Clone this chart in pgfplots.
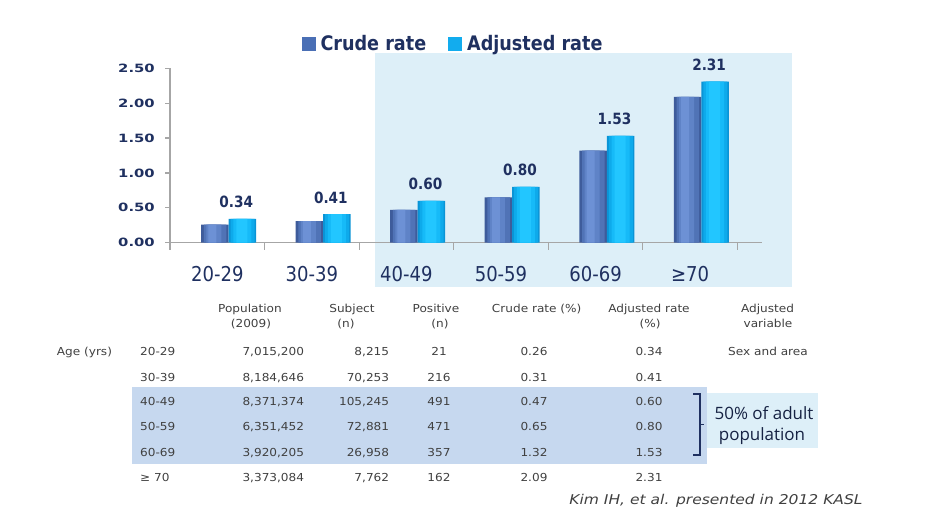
\documentclass[border=0pt]{standalone}
\usepackage{fontspec}
\setmainfont{DejaVu Sans}
\newfontfamily\tickfont{DejaVu Sans}[FakeStretch=1.3]
\newfontfamily\tah{DejaVu Sans}[FakeStretch=0.88]
\newfontfamily\tabfont{DejaVu Sans}[FakeStretch=1.1]
\newfontfamily\citefont{DejaVu Sans}[FakeStretch=1.15]
\newfontfamily\boxfont{Open Sans}
\usepackage{pgfplots}
\usepackage{pgfplotstable}
\pgfplotsset{compat=1.18}
\definecolor{navy}{HTML}{1F3060}
\definecolor{axgray}{HTML}{A6A6A6}
\definecolor{hlchart}{HTML}{DDEFF8}
\definecolor{hltab}{HTML}{C6D8EF}
\definecolor{tabtxt}{HTML}{404040}
\definecolor{crA}{HTML}{3E5C9B}
\definecolor{crB}{HTML}{5073B6}
\definecolor{crC}{HTML}{5F83C7}
\definecolor{crD}{HTML}{6D91D5}
\definecolor{adA}{HTML}{0A94D6}
\definecolor{adB}{HTML}{0EAAEB}
\definecolor{adC}{HTML}{16BAF8}
\definecolor{adD}{HTML}{22C6FF}
\definecolor{legcr}{HTML}{4A6FB5}
\definecolor{legad}{HTML}{12ACEE}
\pgfplotstableread{
x crude adj lab
0 0.26 0.34 0.34
1 0.31 0.41 0.41
2 0.47 0.60 0.60
3 0.65 0.80 0.80
4 1.32 1.53 1.53
5 2.09 2.31 2.31
}\rates
\newcommand{\T}[4]{\node[anchor=#3,inner sep=0pt,font=\tabfont\fontsize{11}{13}\selectfont,text=tabtxt] at (#1,#2) {#4};}
\begin{document}
\begin{tikzpicture}
\begin{scope}[x=1pt,y=-1pt,yshift=508pt]
\fill[hlchart] (375,53) rectangle (792,287);
\fill[hltab] (131.7,387) rectangle (706.7,464);
\fill[hlchart] (706.7,393) rectangle (818,448);
\end{scope}
\begin{axis}[
  at={(170pt,265.3pt)}, anchor=south west,
  scale only axis, width=592pt, height=174.4pt,
  xmin=-0.5, xmax=5.76, ymin=0, ymax=2.5,
  axis lines*=left,
  axis line style={axgray, line width=1.2pt},
  tick align=outside,
  xtick={0,...,5},
  xticklabels={20-29,30-39,40-49,50-59,60-69,≥70},
  minor xtick={-0.5,0.5,...,5.5},
  major x tick style={draw=none},
  minor x tick style={axgray, line width=1.2pt},
  minor tick length=7pt,
  ytick={0,0.5,...,2.5},
  major tick length=5pt,
  major y tick style={axgray, line width=1.2pt},
  xticklabel style={font=\tah\fontsize{20.5}{24}\selectfont, text=navy, anchor=base, yshift=-34pt},
  yticklabel style={font=\tickfont\bfseries\fontsize{11.4}{13}\selectfont, text=navy, inner sep=0pt, xshift=-10pt},
  /pgf/number format/assume math mode=true,
  /pgf/number format/.cd, fixed, fixed zerofill, precision=2, /pgfplots/.cd,
  legend columns=2,
  legend style={at={(0.478,1.141)}, anchor=center, draw=none, fill=none,
    font=\tah\bfseries\fontsize{20}{23}\selectfont, text=navy,
    /tikz/every even column/.append style={column sep=20pt},
    nodes={inner sep=2pt}},
  clip=false,
  every axis plot/.append style={ybar, draw=none, forget plot},
]
\addlegendimage{legend image code/.code={\fill[legcr] (0pt,-7pt) rectangle (14pt,7pt); \path (17pt,0pt);}}
\addlegendentry{Crude rate}
\addlegendimage{legend image code/.code={\fill[legad] (0pt,-7pt) rectangle (14pt,7pt); \path (17pt,0pt);}}
\addlegendentry{Adjusted rate}
% crude rate bars (layered for the shading)
\addplot[fill=crA, bar width=27.5pt, bar shift=-2.5pt] table[x=x,y=crude]{\rates};
\addplot[fill=crB, bar width=22.5pt, bar shift=-2.25pt] table[x=x,y=crude]{\rates};
\addplot[fill=crC, bar width=15pt, bar shift=-3.5pt] table[x=x,y=crude]{\rates};
\addplot[fill=crD, bar width=8pt, bar shift=-5pt] table[x=x,y=crude]{\rates};
% adjusted rate bars
\addplot[fill=adA, bar width=27.5pt, bar shift=25pt] table[x=x,y=adj]{\rates};
\addplot[fill=adB, bar width=24pt, bar shift=25.25pt] table[x=x,y=adj]{\rates};
\addplot[fill=adC, bar width=18pt, bar shift=25pt] table[x=x,y=adj]{\rates};
\addplot[fill=adD, bar width=11pt, bar shift=24.5pt,
  point meta=explicit symbolic,
  nodes near coords,
  nodes near coords style={anchor=base, yshift=11pt, xshift=19pt, inner sep=0pt,
    font=\tah\bfseries\fontsize{15.5}{18}\selectfont, text=navy}]
  table[x=x,y=adj,meta=lab]{\rates};
\end{axis}
\begin{scope}[x=1pt,y=-1pt,yshift=508pt]
% headers
\T{250}{312.3}{base}{Population}
\T{251}{327.3}{base}{(2009)}
\T{352}{312.3}{base}{Subject}
\T{346}{327.3}{base}{(n)}
\T{436}{312.3}{base}{Positive}
\T{440}{327.3}{base}{(n)}
\T{536.7}{312.3}{base}{Crude rate (\%)}
\T{649}{312.3}{base}{Adjusted rate}
\T{650}{327.3}{base}{(\%)}
\T{767.5}{312.3}{base}{Adjusted}
\T{768}{327.3}{base}{variable}
\T{56.7}{355.7}{base west}{Age (yrs)}
% rows
\foreach \yy/\ag/\po/\su/\pos/\cr/\ad in {
  355.7/20-29/{7,015,200}/{8,215}/21/0.26/0.34,
  381.3/30-39/{8,184,646}/{70,253}/216/0.31/0.41,
  405.7/40-49/{8,371,374}/{105,245}/491/0.47/0.60,
  430.7/50-59/{6,351,452}/{72,881}/471/0.65/0.80,
  456.7/60-69/{3,920,205}/{26,958}/357/1.32/1.53,
  481.7/{≥ 70}/{3,373,084}/{7,762}/162/2.09/2.31}{
  \T{140}{\yy}{base west}{\ag}
  \T{304.3}{\yy}{base east}{\po}
  \T{389.3}{\yy}{base east}{\su}
  \T{439}{\yy}{base}{\pos}
  \T{534}{\yy}{base}{\cr}
  \T{649}{\yy}{base}{\ad}
}
\T{768}{355.7}{base}{Sex and area}
% bracket
\draw[navy, line width=1.2pt] (693,394) -- (700,394) -- (700,455) -- (693,455);
\draw[navy, line width=1.2pt] (700,424.5) -- (704,424.5);
\node[anchor=base, inner sep=0pt, font=\boxfont\fontsize{17}{20}\selectfont, text=navy!70!black] at (764,419.5) {50\% of adult};
\node[anchor=base, inner sep=0pt, font=\boxfont\fontsize{17}{20}\selectfont, text=navy!70!black] at (762,441) {population};
\node[anchor=base, inner sep=0pt, font=\citefont\itshape\fontsize{13.5}{16}\selectfont, text=tabtxt] at (716,504.5) {Kim IH, et al. presented in 2012 KASL};
\end{scope}
\pgfresetboundingbox
\path[use as bounding box] (0,0) rectangle (938pt,508pt);
\end{tikzpicture}
\end{document}
